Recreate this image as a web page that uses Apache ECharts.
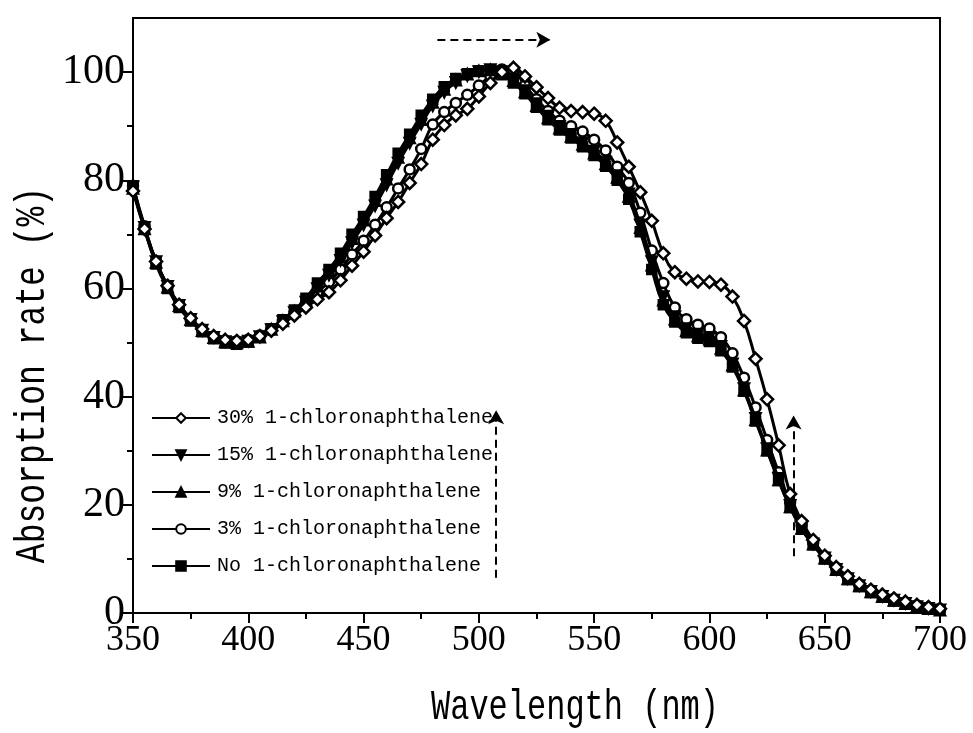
<!DOCTYPE html>
<html>
<head>
<meta charset="utf-8">
<script src="https://cdn.jsdelivr.net/npm/echarts@6/dist/echarts.min.js"></script>
<style>
html,body{margin:0;padding:0;background:#fff;}
#chart{width:973px;height:733px;}
</style>
</head>
<body>
<div id="chart"></div>
<script>
const wavelengths = [350,355,360,365,370,375,380,385,390,395,400,405,410,415,420,425,430,435,440,445,450,455,460,465,470,475,480,485,490,495,500,505,510,515,520,525,530,535,540,545,550,555,560,565,570,575,580,585,590,595,600,605,610,615,620,625,630,635,640,645,650,655,660,665,670,675,680,685,690,695,700];

const pct30 = [78,71,65,60.5,57,54.5,52.5,51.2,50.5,50.3,50.5,51.2,52.2,53.5,55,56.5,58,59.3,61.5,64.2,66.8,69.8,73,76,79.5,83,87.5,90.2,92,93.2,95.5,98,100,100.8,99.2,97.2,95.2,93.4,92.8,92.6,92.3,91,87,82.5,77.8,72.5,66.5,63,61.8,61.3,61.2,60.7,58.5,54,47,39.5,31,22,17,13.5,10.6,8.5,6.8,5.4,4.3,3.4,2.7,2.1,1.5,1.1,0.8];

const pct15 = [78.8,71.3,65,60.4,56.9,54.3,52.3,51,50.2,50,50.3,51.1,52.4,53.9,55.6,57.5,60,62.5,65.2,68.5,71.8,75.3,79.2,83.2,86.9,90.4,93.8,96.3,98.1,99.4,100.1,100.5,100.1,98.8,96.6,94.2,91.9,90,88.5,87,85.4,83.4,80.9,77.5,71.8,65,58.5,54.8,52.6,51.6,51,49.3,46.1,41.5,36,30.4,24.9,19.9,15.8,12.8,10.2,8.1,6.4,5.1,4,3.1,2.4,1.8,1.2,0.9,0.6];

const pct9 = [78.5,71,64.8,60.2,56.8,54.2,52.2,50.9,50.1,49.9,50.2,51,52.4,54,55.8,57.8,60.4,63,65.8,69.2,72.6,76.2,80.2,84.2,87.8,91.2,94.4,96.8,98.5,99.6,100.2,100.4,99.8,98.4,96.3,93.8,91.5,89.6,88.1,86.6,85,83,80.5,77,71.2,64.3,57.8,54.3,52.2,51.2,50.6,48.9,45.8,41.2,35.7,30.1,24.6,19.6,15.6,12.7,10.1,8,6.3,5,3.9,3,2.3,1.7,1.2,0.8,0.5];

const pct3 = [79,71.5,65,60.5,57,54.3,52.3,51,50.3,50.2,50.5,51.3,52.5,54,55.5,57.3,59.3,61.2,63.5,66.3,68.8,71.8,75,78.5,82,85.8,90.3,92.6,94.3,95.8,97.5,99.3,100.5,100.2,97.5,95,92.8,91,90,89,87.5,85.5,82.5,79.5,74,67,61,56.5,54.3,53.3,52.6,51,48,43.5,38,32,26,20.5,16.2,13,10.4,8.3,6.6,5.2,4.1,3.2,2.5,1.9,1.4,1,0.7];

const pct0 = [79,71,64.5,60,56.5,54,52,50.7,49.9,49.7,50.1,51,52.5,54.2,56,58.2,61,63.5,66.5,70,73.3,77,81,85,88.5,92,95,97.3,98.8,99.7,100.2,100.3,99.5,98,96,93.5,91.2,89.3,87.8,86.2,84.6,82.6,80,76.5,70.5,63.5,57,53.8,51.8,50.8,50.2,48.5,45.5,41,35.5,30,24.5,19.5,15.5,12.6,10,7.9,6.2,4.9,3.8,2.9,2.2,1.6,1.1,0.8,0.5];

const seriesNames = ['30% 1-chloronaphthalene','15% 1-chloronaphthalene','9% 1-chloronaphthalene','3% 1-chloronaphthalene','No 1-chloronaphthalene'];

const yMajorTicks = [0,20,40,60,80,100];
const yMinorTicks = [10,30,50,70,90];

// dashed arrow annotations: [x1,y1,x2,y2] in data units
const arrows = [
  [482, 106, 531, 106],
  [507.5, 6.5, 507.5, 37.5],
  [636.5, 10.5, 636.5, 36.5]
];

function pairs(ys){ return wavelengths.map((x,i)=>[x, ys[i]]); }

const styles = [
  {symbol:'diamond', fill:'#fff', size:12, rotate:0},
  {symbol:'triangle', fill:'#000', size:10, rotate:180},
  {symbol:'triangle', fill:'#000', size:10, rotate:0},
  {symbol:'circle', fill:'#fff', size:10, rotate:0},
  {symbol:'rect', fill:'#000', size:9, rotate:0}
];
const values = [pct30, pct15, pct9, pct3, pct0];

const series = seriesNames.map((name,i)=>({
  name: name,
  type: 'line',
  data: pairs(values[i]),
  symbol: styles[i].symbol,
  symbolSize: styles[i].size,
  symbolRotate: styles[i].rotate,
  showAllSymbol: true,
  smooth: true,
  lineStyle: {color:'#000', width:3},
  itemStyle: {color: styles[i].fill, borderColor:'#000', borderWidth:2.5},
  z: 3 + (4 - i)
}));

series.push({
  name: 'arrows',
  type: 'line',
  data: [],
  silent: true,
  markLine: {
    silent: true,
    symbol: ['none','arrow'],
    symbolSize: [12, 14],
    label: {show:false},
    lineStyle: {type:[8,5], color:'#000', width:2},
    emphasis: {disabled:true},
    data: arrows.map(a => [{coord:[a[0],a[1]]},{coord:[a[2],a[3]]}])
  }
});

const chart = echarts.init(document.getElementById('chart'));
chart.setOption({
  animation: false,
  backgroundColor: '#fff',
  grid: {left:133, right:33, top:18, bottom:120, show:true, borderColor:'#000', borderWidth:2, backgroundColor:'transparent'},
  xAxis: {
    type:'value', min:350, max:700, interval:50,
    axisLine:{show:true, lineStyle:{color:'#000', width:2}},
    axisTick:{show:true, length:10, lineStyle:{color:'#000', width:2}},
    minorTick:{show:true, splitNumber:2, length:6, lineStyle:{color:'#000', width:2}},
    splitLine:{show:false},
    axisLabel:{color:'#000', fontSize:36, fontFamily:'Liberation Serif', margin:10}
  },
  yAxis: [{
    type:'value', min:0, max:110,
    axisLine:{show:true, lineStyle:{color:'#000', width:2}},
    axisTick:{show:true, length:10, customValues:yMajorTicks, lineStyle:{color:'#000', width:2}},
    splitLine:{show:false},
    axisLabel:{color:'#000', fontSize:42, fontFamily:'Liberation Serif', margin:8, customValues:yMajorTicks}
  },{
    type:'value', min:0, max:110, position:'left',
    axisLine:{show:false},
    axisTick:{show:true, length:6, customValues:yMinorTicks, lineStyle:{color:'#000', width:2}},
    axisLabel:{show:false},
    splitLine:{show:false}
  }],
  legend: {
    data: seriesNames,
    orient:'vertical', left:146, top:402,
    itemWidth:58, itemHeight:12, itemGap:15,
    selectedMode:false,
    textStyle:{color:'#000', fontSize:20, fontFamily:'Liberation Mono', lineHeight:22, padding:[0,0,0,2]}
  },
  graphic: [
    {type:'text', x:575, y:708, scaleY:1.35, style:{text:'Wavelength (nm)', fill:'#000', font:'32px "Liberation Mono"', align:'center', verticalAlign:'middle'}},
    {type:'text', x:33, y:375, rotation:Math.PI/2, scaleY:1.3, style:{text:'Absorption rate (%)', fill:'#000', font:'33px "Liberation Mono"', align:'center', verticalAlign:'middle'}}
  ],
  series: series
});
</script>
</body>
</html>
